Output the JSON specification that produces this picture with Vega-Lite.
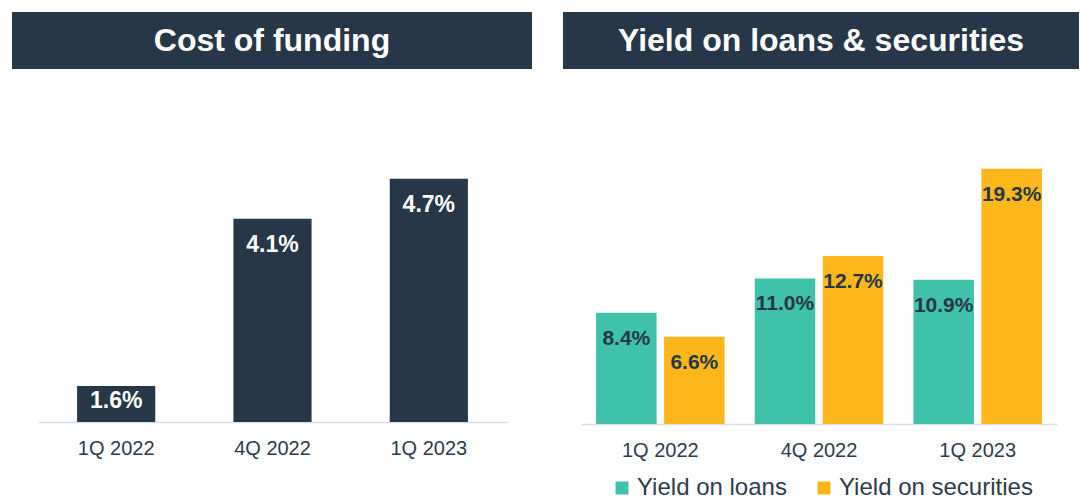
{
  "$schema": "https://vega.github.io/schema/vega-lite/v6.json",
  "padding": {"left": 12, "top": 12, "right": 0, "bottom": 0},
  "background": "white",
  "config": {
    "view": {"stroke": null},
    "font": "Liberation Sans",
    "axis": {
      "domainColor": "#d5dfe9",
      "domainWidth": 1.5,
      "ticks": false,
      "tickSize": 0,
      "grid": false,
      "labelFontSize": 20,
      "labelColor": "#2e3c4d",
      "labelPadding": 16,
      "labelAngle": 0,
      "title": null
    },
    "legend": {
      "orient": "bottom",
      "direction": "horizontal",
      "title": null,
      "symbolType": "square",
      "symbolSize": 169,
      "symbolStrokeWidth": 0,
      "labelFontSize": 24,
      "labelLimit": 400,
      "labelColor": "#2e3c4d",
      "labelOffset": 3,
      "columnPadding": 25,
      "offset": 16,
      "layout": {"bottom": {"anchor": "middle"}}
    }
  },
  "spacing": 31,
  "resolve": {"legend": {"color": "independent"}, "scale": {"color": "independent"}},
  "hconcat": [
    {
      "spacing": 0,
      "vconcat": [
        {
          "width": 520,
          "height": 57,
          "view": {"fill": "#253748", "stroke": null},
          "data": {"values": [{"title": "Cost of funding"}]},
          "mark": {"type": "text", "fontSize": 32, "fontWeight": "bold", "color": "white", "baseline": "middle"},
          "encoding": {"text": {"field": "title"}}
        },
        {
          "width": 520,
          "height": 353,
          "data": {"values": [
            {"period": "1Q 2022", "value": 0.016},
            {"period": "4Q 2022", "value": 0.041},
            {"period": "1Q 2023", "value": 0.047}
          ]},
          "encoding": {
            "x": {"field": "period", "type": "nominal", "sort": null,
                  "scale": {"range": [26, 495], "paddingInner": 0.5, "paddingOuter": 0.25}},
            "y": {"field": "value", "type": "quantitative",
                  "scale": {"domain": [0.0106, 0.0634], "zero": false, "nice": false, "clamp": true}, "axis": null}
          },
          "layer": [
            {"mark": {"type": "bar", "color": "#253748"}},
            {"transform": [{"filter": "datum.value >= 0.02"}],
             "mark": {"type": "text", "baseline": "top", "dy": 15, "fontSize": 23, "fontWeight": "bold", "color": "white"},
             "encoding": {"text": {"field": "value", "format": ".1%"}}},
            {"transform": [{"filter": "datum.value < 0.02"}],
             "mark": {"type": "text", "baseline": "top", "dy": 4, "fontSize": 23, "fontWeight": "bold", "color": "white"},
             "encoding": {"text": {"field": "value", "format": ".1%"}}}
          ]
        }
      ]
    },
    {
      "spacing": 0,
      "resolve": {"legend": {"color": "independent"}},
      "vconcat": [
        {
          "width": 516,
          "height": 57,
          "view": {"fill": "#253748", "stroke": null},
          "data": {"values": [{"title": "Yield on loans & securities"}]},
          "mark": {"type": "text", "fontSize": 32, "fontWeight": "bold", "color": "white", "baseline": "middle"},
          "encoding": {"text": {"field": "title"}}
        },
        {
          "width": 516,
          "height": 355,
          "data": {"values": [
            {"period": "1Q 2022", "series": "Yield on loans", "value": 0.084},
            {"period": "1Q 2022", "series": "Yield on securities", "value": 0.066},
            {"period": "4Q 2022", "series": "Yield on loans", "value": 0.110},
            {"period": "4Q 2022", "series": "Yield on securities", "value": 0.127},
            {"period": "1Q 2023", "series": "Yield on loans", "value": 0.109},
            {"period": "1Q 2023", "series": "Yield on securities", "value": 0.193}
          ]},
          "encoding": {
            "x": {"field": "period", "type": "nominal", "sort": null,
                  "scale": {"range": [18, 494], "paddingInner": 0.19, "paddingOuter": 0.095}},
            "xOffset": {"field": "series", "type": "nominal",
                        "scale": {"paddingInner": 0.11, "paddingOuter": 0}},
            "y": {"field": "value", "type": "quantitative",
                  "scale": {"domain": [0, 0.2683], "nice": false}, "axis": null}
          },
          "layer": [
            {"mark": {"type": "bar"},
             "encoding": {"color": {"field": "series", "type": "nominal",
                "scale": {"domain": ["Yield on loans", "Yield on securities"], "range": ["#40C1AC", "#FDB71A"]}}}},
            {"mark": {"type": "text", "baseline": "top", "dy": 15, "fontSize": 21, "fontWeight": "bold", "color": "#253748"},
             "encoding": {"text": {"field": "value", "format": ".1%"}}}
          ]
        }
      ]
    }
  ]
}
